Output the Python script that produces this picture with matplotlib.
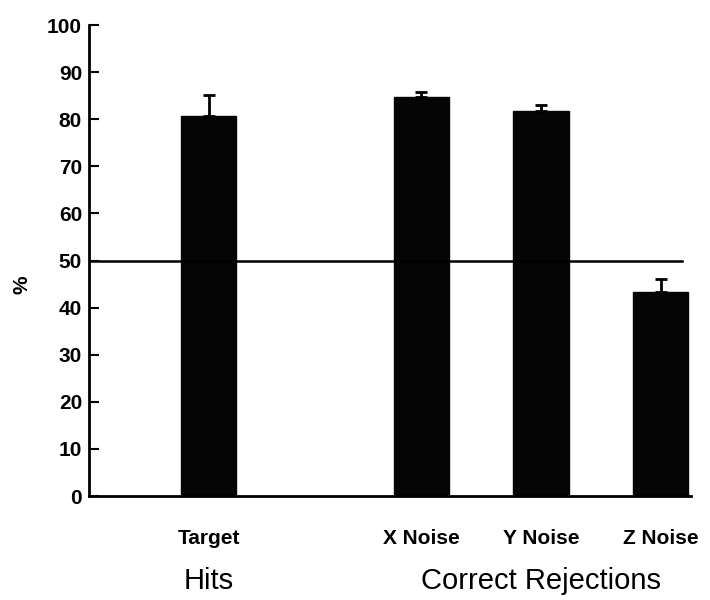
import matplotlib.pyplot as plt
import matplotlib.transforms as mtransforms
import numpy as np

plt.rcParams['font.family'] = ['Liberation Sans', 'DejaVu Sans']

categories = ['Target', 'X Noise', 'Y Noise', 'Z Noise']
positions = [0, 1.77, 2.77, 3.77]
values = [80.7, 84.8, 81.7, 43.3]
errors = [4.4, 1.0, 1.3, 2.8]
groups = ['Hits', 'Correct Rejections']
group_pos = [0, 2.77]
chance = 50

fig = plt.figure(figsize=(7.1, 6), dpi=100)
ax = fig.add_axes([0.1254, 0.1733, 0.8476, 0.785])

ax.bar(positions, values, width=0.46, color='#050505', edgecolor='#050505')
ax.errorbar(positions, values, yerr=[np.zeros(len(errors)), errors], fmt='none',
            ecolor='black', elinewidth=2, capsize=4, capthick=2)
ax.axhline(chance, color='black', linewidth=1.8, xmax=0.985)

ax.set_ylim(0, 100)
ax.set_xlim(-1.0, 4.02)
ax.set_yticks(range(0, 101, 10))
ax.set_xticks(positions)
ax.set_xticklabels(categories)

for s in ['top', 'right']:
    ax.spines[s].set_visible(False)
for s in ['left', 'bottom']:
    ax.spines[s].set_linewidth(2)

ax.tick_params(axis='y', direction='in', length=7, width=1.5, pad=5, labelsize=15)
ax.tick_params(axis='x', length=0, pad=24, labelsize=15)
for lab in ax.get_yticklabels() + ax.get_xticklabels():
    lab.set_fontweight('bold')

ax.set_ylabel('%', fontsize=15, fontweight='bold')
ax.yaxis.set_label_coords(-0.095, 0.448)

trans = mtransforms.blended_transform_factory(ax.transData, ax.transAxes)
for g, p in zip(groups, group_pos):
    ax.text(p, -0.18, g, transform=trans, ha='center', va='center', fontsize=21)

fig.savefig('out.png', dpi=100)
